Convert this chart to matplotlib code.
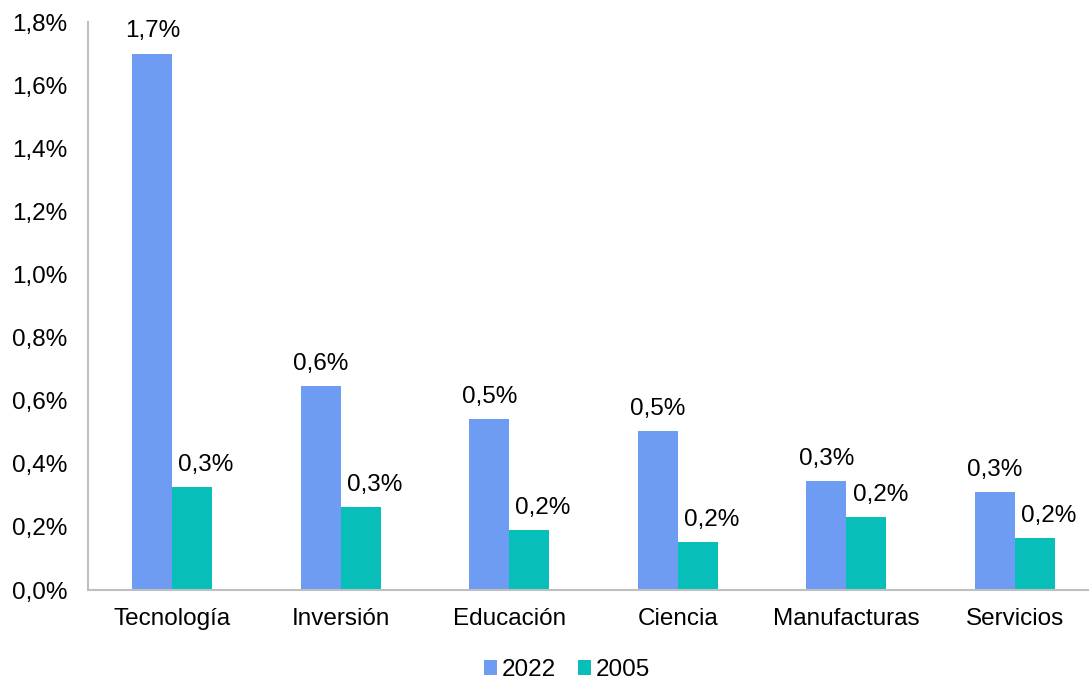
import numpy as np
from matplotlib import pyplot as plt

plt.rcParams['font.family'] = ['Liberation Sans', 'DejaVu Sans']

# data (values in %)
categorias = ["Tecnología", "Inversión", "Educación", "Ciencia", "Manufacturas", "Servicios"]
valores_2022 = [1.70, 0.646, 0.542, 0.504, 0.345, 0.311]
valores_2005 = [0.326, 0.263, 0.190, 0.152, 0.231, 0.165]

color_2022 = "#6E9CF2"
color_2005 = "#07BFB8"
fs = 17.5

fig = plt.figure(figsize=(10.89, 6.81), dpi=100)
ax = fig.add_axes([88/1089, 1 - 590/681, 1 - 88/1089, (590 - 22)/681])

x = np.arange(len(categorias))
w = 0.237

b1 = ax.bar(x - w/2, valores_2022, w, color=color_2022, label="2022")
b2 = ax.bar(x + w/2, valores_2005, w, color=color_2005, label="2005")

def etiqueta(v):
    return f"{v:.1f}%".replace(".", ",")

# the 2005 labels sit a bit to the right, like in the original
for barras, dx in ((b1, 0), (b2, 10)):
    for r in barras:
        v = r.get_height()
        ax.annotate(etiqueta(v), (r.get_x() + r.get_width()/2, v),
                    xytext=(dx, 8), textcoords="offset points",
                    ha="center", va="bottom", fontsize=fs)

ax.set_xlim(-0.5, 5.44)
ax.set_ylim(0, 1.8)
yt = np.arange(0, 1.81, 0.2)
ax.set_yticks(yt)
ax.set_yticklabels([f"{t:.1f}%".replace(".", ",") for t in yt], fontsize=fs)
ax.set_xticks(x)
ax.set_xticklabels(categorias, fontsize=fs)
ax.tick_params(axis="y", length=0, pad=15)
ax.tick_params(axis="x", length=0, pad=13)

for s in ("top", "right"):
    ax.spines[s].set_visible(False)
for s in ("left", "bottom"):
    ax.spines[s].set_color("#BFBFBF")
    ax.spines[s].set_linewidth(1.5)

fig.legend(loc="center", bbox_to_anchor=(567/1089, 1 - 670/681), ncol=2,
           frameon=False, fontsize=fs, handlelength=0.55, handleheight=0.55,
           handletextpad=0.2, columnspacing=0.9)

fig.savefig("out.png", dpi=100)
